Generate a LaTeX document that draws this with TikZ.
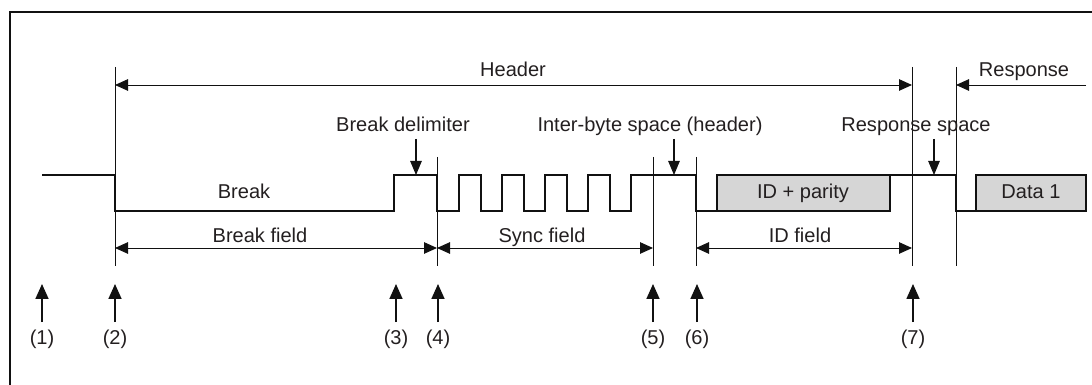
\documentclass[tikz,border=0pt]{standalone}
\usepackage{fontspec}
\setmainfont{Liberation Sans}
\usepackage{xcolor}
\usetikzlibrary{arrows.meta,calc}
\definecolor{ink}    {HTML}{111111}
\definecolor{textc}  {HTML}{231F20}
\definecolor{boxfill}{HTML}{D6D6D6}
\tikzset{
  frame/.style    = {draw=ink, line width=1.3pt},
  sig/.style      = {draw=ink, line width=0.95pt, line join=miter},
  guide/.style    = {draw=ink, line width=0.55pt},
  dim/.style      = {{Triangle[length=2.6mm,width=2.3mm]}-{Triangle[length=2.6mm,width=2.3mm]},
                     draw=ink, line width=0.55pt},
  half/.style     = {-{Triangle[length=2.6mm,width=2.3mm]}, draw=ink, line width=0.55pt},
  ptr/.style      = {-{Triangle[length=2.8mm,width=2.3mm]}, draw=ink, line width=0.6pt},
  evt/.style      = {-{Triangle[length=3mm,width=2.6mm]}, draw=ink, line width=0.95pt},
  fieldbox/.style = {fill=boxfill, draw=ink, line width=0.95pt},
  lbl/.style      = {font=\fontsize{11.4}{13.7}\selectfont, text=textc, inner sep=0pt, anchor=base},
}

\begin{document}
\begin{tikzpicture}[x=0.2mm, y=-0.2mm]
  \useasboundingbox (0,0) rectangle (1092,385);
  \draw[frame] (10,385) -- (10,12) -- (1092,12);

  % guide lines
  \draw[guide] (115,67)  -- (115,266);
  \draw[guide] (437,157) -- (437,266);
  \draw[guide] (653,157) -- (653,266);
  \draw[guide] (696,157) -- (696,266);
  \draw[guide] (912,67)  -- (912,266);
  \draw[guide] (956,67)  -- (956,266);

  % header / response
  \node[lbl] (hdr) at (513,77) {Header};
  \node[lbl] (rsp) at (1024,77) {Response};
  \coordinate (hdrL) at (115,85);
  \coordinate (hdrR) at (912,85);
  \coordinate (rspL) at (956,85);
  \coordinate (rspR) at (1086,85);
  \draw[dim]  (hdrL) -- (hdrR);
  \draw[half] (rspR) -- (rspL);

  % signal
  \draw[sig] (42,175) -- (115,175) -- (115,211) -- (394,211) -- (394,175) -- (437,175)
    -- (437,211) -- (459,211) -- (459,175) -- (481,175) -- (481,211) -- (502,211)
    -- (502,175) -- (524,175) -- (524,211) -- (545,211) -- (545,175) -- (567,175)
    -- (567,211) -- (588,211) -- (588,175) -- (610,175) -- (610,211) -- (631,211)
    -- (631,175) -- (696,175) -- (696,211) -- (717,211);
  \draw[sig] (890,175) -- (956,175) -- (956,211) -- (976,211);
  \draw[fieldbox] (717,175) rectangle (890,211);
  \draw[fieldbox] (976,175) rectangle (1086,211);
  \node[lbl] (brk) at (244,199) {Break};
  \node[lbl] (idp) at (803,199) {ID + parity};
  \node[lbl] (dat) at (1031,199) {Data 1};

  % pointers to the signal
  \node[lbl] (bdl) at (403,132) {Break delimiter};
  \node[lbl] (ibs) at (650,132) {Inter-byte space (header)};
  \node[lbl] (rss) at (916,132) {Response space};
  \coordinate (bdlFrom) at (416,139);  \coordinate (bdlTip) at (416,175);
  \coordinate (ibsFrom) at (674,139);  \coordinate (ibsTip) at (674,175);
  \coordinate (rssFrom) at (934,139);  \coordinate (rssTip) at (934,175);
  \draw[ptr] (bdlFrom) -- (bdlTip);
  \draw[ptr] (ibsFrom) -- (ibsTip);
  \draw[ptr] (rssFrom) -- (rssTip);

  % fields
  \node[lbl] (bfl) at (260,243) {Break field};
  \node[lbl] (sfl) at (542,243) {Sync field};
  \node[lbl] (ifl) at (800,243) {ID field};
  \coordinate (bfL) at (115,248);  \coordinate (bfR) at (437,248);
  \coordinate (sfL) at (437,248);  \coordinate (sfR) at (653,248);
  \coordinate (ifL) at (696,248);  \coordinate (ifR) at (912,248);
  \draw[dim] (bfL) -- (bfR);
  \draw[dim] (sfL) -- (sfR);
  \draw[dim] (ifL) -- (ifR);

  % event markers
  \node[lbl] (e1) at (42,345)  {(1)};
  \node[lbl] (e2) at (115,345) {(2)};
  \node[lbl] (e3) at (396,345) {(3)};
  \node[lbl] (e4) at (438,345) {(4)};
  \node[lbl] (e5) at (653,345) {(5)};
  \node[lbl] (e6) at (697,345) {(6)};
  \node[lbl] (e7) at (913,345) {(7)};
  \coordinate (p1) at (42,284);
  \coordinate (p2) at (115,284);
  \coordinate (p3) at (396,284);
  \coordinate (p4) at (438,284);
  \coordinate (p5) at (653,284);
  \coordinate (p6) at (697,284);
  \coordinate (p7) at (913,284);
  \draw[evt] ([yshift=1.6mm]e1.north) -- (p1);
  \draw[evt] ([yshift=1.6mm]e2.north) -- (p2);
  \draw[evt] ([yshift=1.6mm]e3.north) -- (p3);
  \draw[evt] ([yshift=1.6mm]e4.north) -- (p4);
  \draw[evt] ([yshift=1.6mm]e5.north) -- (p5);
  \draw[evt] ([yshift=1.6mm]e6.north) -- (p6);
  \draw[evt] ([yshift=1.6mm]e7.north) -- (p7);
\end{tikzpicture}
\end{document}
